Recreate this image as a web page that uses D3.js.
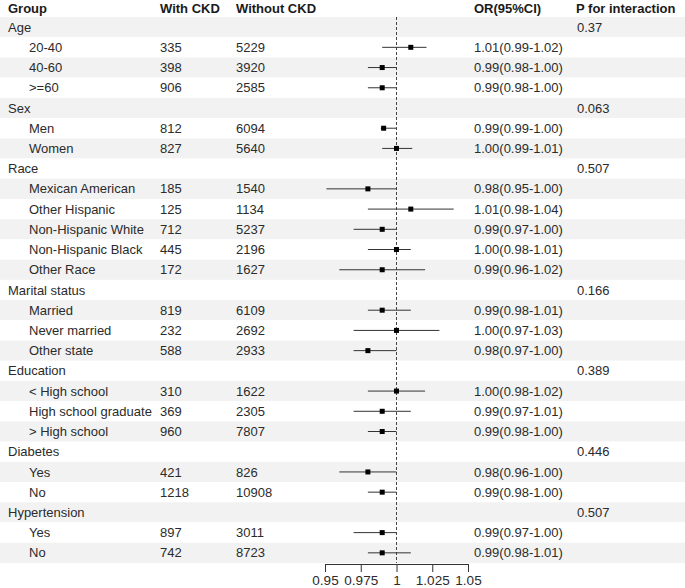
<!DOCTYPE html>
<html>
<head>
<meta charset="utf-8">
<script src="https://cdn.jsdelivr.net/npm/d3@7"></script>
<style>
  body { margin: 0; background: #fff; }
  text { font-family: "Liberation Sans", Arial, sans-serif; font-size: 13px; fill: #2b2b2b; }
  .head { font-weight: bold; fill: #1a1a1a; }
</style>
</head>
<body>
<div id="chart"></div>
<script>
// rows of the table, group headings have no counts
const labels = ["Age", "20-40", "40-60", ">=60", "Sex", "Men", "Women", "Race", "Mexican American",
  "Other Hispanic", "Non-Hispanic White", "Non-Hispanic Black", "Other Race", "Marital status",
  "Married", "Never married", "Other state", "Education", "< High school", "High school graduate",
  "> High school", "Diabetes", "Yes", "No", "Hypertension", "Yes", "No"];
const isGroup = [1,0,0,0,1,0,0,1,0,0,0,0,0,1,0,0,0,1,0,0,0,1,0,0,1,0,0];
const withCKD = ["", "335", "398", "906", "", "812", "827", "", "185", "125", "712", "445", "172", "",
  "819", "232", "588", "", "310", "369", "960", "", "421", "1218", "", "897", "742"];
const withoutCKD = ["", "5229", "3920", "2585", "", "6094", "5640", "", "1540", "1134", "5237", "2196", "1627", "",
  "6109", "2692", "2933", "", "1622", "2305", "7807", "", "826", "10908", "", "3011", "8723"];
const orText = ["", "1.01(0.99-1.02)", "0.99(0.98-1.00)", "0.99(0.98-1.00)", "", "0.99(0.99-1.00)", "1.00(0.99-1.01)", "",
  "0.98(0.95-1.00)", "1.01(0.98-1.04)", "0.99(0.97-1.00)", "1.00(0.98-1.01)", "0.99(0.96-1.02)", "",
  "0.99(0.98-1.01)", "1.00(0.97-1.03)", "0.98(0.97-1.00)", "", "1.00(0.98-1.02)", "0.99(0.97-1.01)", "0.99(0.98-1.00)", "",
  "0.98(0.96-1.00)", "0.99(0.98-1.00)", "", "0.99(0.97-1.00)", "0.99(0.98-1.01)"];
const pInter = ["0.37", "", "", "", "0.063", "", "", "0.507", "", "", "", "", "", "0.166", "", "", "",
  "0.389", "", "", "", "0.446", "", "", "0.507", "", ""];
const orEst = [null, 1.010, 0.990, 0.990, null, 0.991, 1.000, null, 0.980, 1.010, 0.990, 1.000, 0.990, null,
  0.990, 1.000, 0.980, null, 1.000, 0.990, 0.990, null, 0.980, 0.990, null, 0.990, 0.990];
const orLow = [null, 0.990, 0.980, 0.980, null, 0.989, 0.990, null, 0.951, 0.980, 0.970, 0.980, 0.960, null,
  0.980, 0.970, 0.970, null, 0.980, 0.970, 0.980, null, 0.960, 0.980, null, 0.970, 0.980];
const orHigh = [null, 1.021, 1.000, 1.000, null, 1.000, 1.011, null, 1.000, 1.040, 1.000, 1.010, 1.020, null,
  1.010, 1.030, 1.000, null, 1.020, 1.010, 1.000, null, 1.000, 1.000, null, 1.000, 1.010];
const xTicks = [0.95, 0.975, 1, 1.025, 1.05];
const headers = ["Group", "With CKD", "Without CKD", "OR(95%CI)", "P for interaction"];

const width = 685, height = 588;
const topY = 17, rowH = 20.22;

const svg = d3.select("#chart").append("svg")
    .attr("width", width)
    .attr("height", height);

const y = d3.scaleBand()
    .domain(d3.range(labels.length))
    .range([topY, topY + rowH * labels.length]);

const x = d3.scaleLinear().domain([0.95, 1.05]).range([325, 468]);

// striped background
svg.selectAll("rect.band")
    .data(labels)
    .enter().append("rect")
    .attr("class", "band")
    .attr("x", 0)
    .attr("width", width)
    .attr("y", (d, i) => y(i))
    .attr("height", y.bandwidth())
    .attr("fill", (d, i) => i % 2 === 0 ? "#f2f2f2" : "#fff");

// header
const colX = [8, 160, 236, 474, 576];
svg.selectAll("text.head")
    .data(headers)
    .enter().append("text")
    .attr("class", "head")
    .attr("x", (d, i) => colX[i])
    .attr("y", 8)
    .attr("dy", "0.35em")
    .text(d => d);

// table columns
const cols = [
  {vals: labels, x: (d, i) => isGroup[i] ? 8 : 29},
  {vals: withCKD, x: () => 160},
  {vals: withoutCKD, x: () => 236},
  {vals: orText, x: () => 474},
  {vals: pInter, x: () => 577}
];
cols.forEach(c => {
  svg.append("g").selectAll("text")
      .data(c.vals)
      .enter().append("text")
      .attr("x", c.x)
      .attr("y", (d, i) => y(i) + y.bandwidth() / 2)
      .attr("dy", "0.35em")
      .text(d => d);
});

// reference line at OR = 1
svg.append("line")
    .attr("x1", x(1)).attr("x2", x(1))
    .attr("y1", topY).attr("y2", topY + rowH * labels.length)
    .attr("stroke", "#444")
    .attr("stroke-dasharray", "3,2");

// confidence intervals and estimates
const idx = d3.range(labels.length).filter(i => orEst[i] !== null);
svg.append("g").selectAll("line")
    .data(idx)
    .enter().append("line")
    .attr("x1", i => x(orLow[i]))
    .attr("x2", i => x(orHigh[i]))
    .attr("y1", i => y(i) + y.bandwidth() / 2)
    .attr("y2", i => y(i) + y.bandwidth() / 2)
    .attr("stroke", "#333")
    .attr("stroke-width", 1);

svg.append("g").selectAll("rect")
    .data(idx)
    .enter().append("rect")
    .attr("x", i => x(orEst[i]) - 2.5)
    .attr("y", i => y(i) + y.bandwidth() / 2 - 2.5)
    .attr("width", 5)
    .attr("height", 5)
    .attr("fill", "#000");

// x axis
const axis = svg.append("g")
    .attr("transform", "translate(0,564)")
    .call(d3.axisBottom(x).tickValues(xTicks).tickSize(8).tickPadding(3).tickFormat(d => String(d)));
axis.attr("font-family", null).attr("font-size", null);
axis.selectAll("text").style("font-size", "13.5px").style("fill", "#2b2b2b");
axis.select(".domain").attr("stroke", "#333");
axis.selectAll(".tick line").attr("stroke", "#333");
</script>
</body>
</html>
